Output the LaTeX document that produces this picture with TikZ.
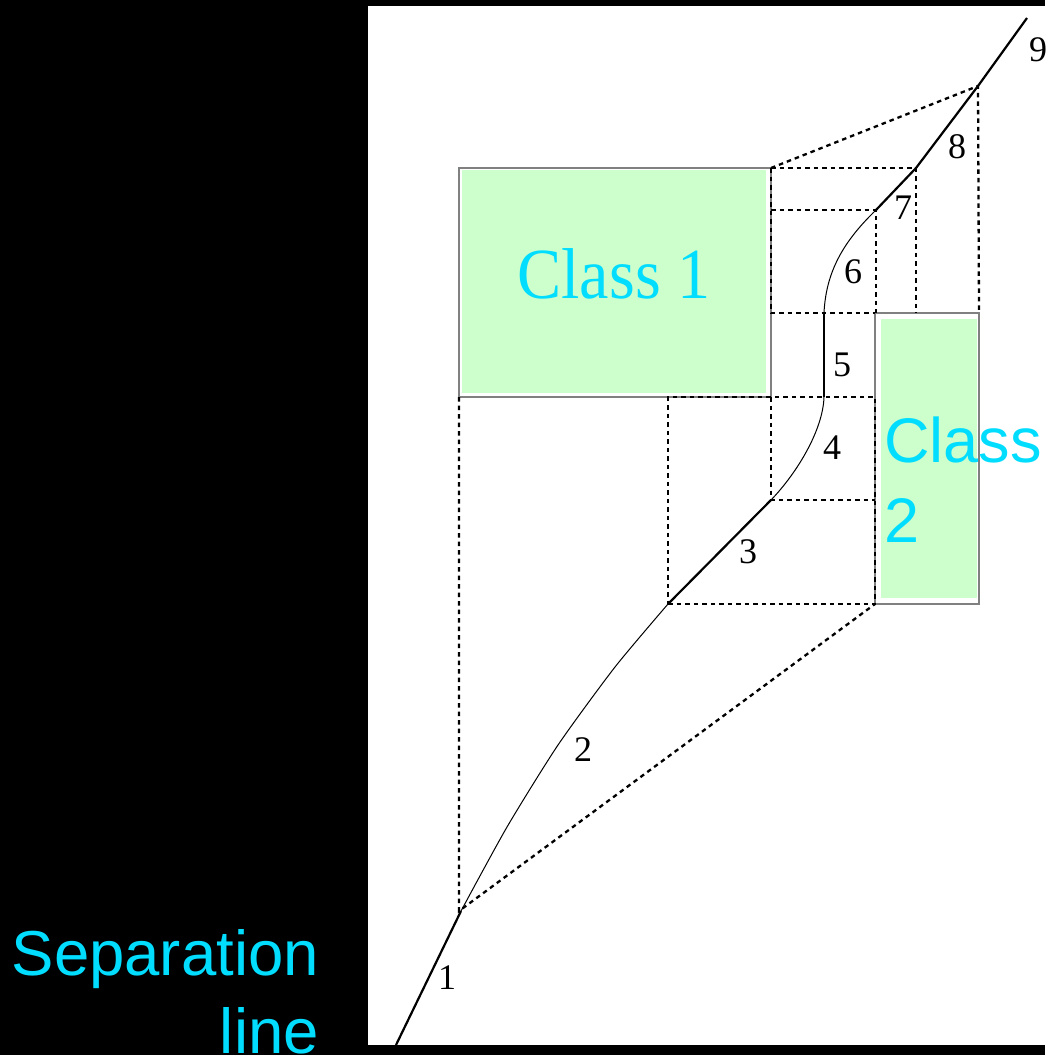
\documentclass[tikz,border=0pt]{standalone}
\usepackage{fontspec}
\setmainfont{Liberation Serif}
\newfontfamily\arialfont{Liberation Sans}
\usepackage{tikz}
\definecolor{labelcyan}{RGB}{0,221,255}
\definecolor{classgreen}{RGB}{204,255,204}

\begin{document}
\begin{tikzpicture}[x=1pt,y=-1pt,
  classbox/.style={draw=gray,line width=1.3pt,fill=white,inner sep=0pt,outer sep=0pt},
  boxfill/.style={fill=classgreen},
  thickseg/.style={line width=2.2pt},
  thinseg/.style={line width=1pt},
  guide/.style={line width=2.3pt,dash pattern=on 4.5pt off 4pt},
  num/.style={font=\fontsize{36}{36}\selectfont,inner sep=0pt},
  classtext/.style={text=labelcyan,inner sep=0pt}]
\fill[black] (0,0) rectangle (1045,1055);
\fill[white] (368,6) rectangle (1045,1045);
\useasboundingbox (0,0) rectangle (1045,1055);

\node[classbox,minimum width=312pt,minimum height=229pt] (c1) at (615,282.5) {};
\node[classbox,minimum width=104pt,minimum height=291pt] (c2) at (927,458.5) {};
\fill[boxfill] ([shift={(3pt,-2pt)}]c1.north west) rectangle ([shift={(-5pt,4pt)}]c1.south east);
\fill[boxfill] ([shift={(6pt,-6pt)}]c2.north west) rectangle ([shift={(-2pt,6pt)}]c2.south east);

\coordinate (s0) at (396,1045);
\coordinate (s1) at (461,911);
\coordinate (s2) at (668,604);
\coordinate (s3) at (771,500);
\coordinate (s4) at (824,397);
\coordinate (s5) at (824,313);
\coordinate (s6) at (876,210);
\coordinate (s7) at (916,168);
\coordinate (s8) at (978,86);
\coordinate (s9) at (1027,18);

\draw[guide] (c1.south west) -- (c1.south west |- s1) -- (c2.south west);
\draw[guide] (s2) -- (c2.south west) -- (c2.west |- c1.south) -- (s2 |- c1.south) -- cycle;
\draw[guide] (c1.south east) -- (s3) -- (c2.west |- s3);
\draw[guide] (c1.north east) -- (s8) -- (c2.north east);
\draw[guide] (c1.north east) -- (s7) -- (s7 |- c2.north);
\draw[guide] (c1.north east) -- (c1.east |- c2.north) -- (c2.north west);
\draw[guide] (c1.east |- s6) -- (s6) -- (s6 |- c2.north);

\draw[thickseg] (s0) -- (s1);
\draw[thinseg] plot[smooth,tension=0.4] coordinates {(s1) (507,827) (558,745) (615,667) (s2)};
\draw[thickseg] (s2) -- (s3);
\draw[thinseg] (s3) .. controls (797,473) and (823,430) .. (s4);
\draw[thickseg] (s4) -- (s5);
\draw[thinseg] (s5) .. controls (826,270) and (845,240) .. (s6);
\draw[thickseg] (s6) -- (s7) -- (s8) -- (s9);

\node[num] (n1) at (447,978) {1};
\node[num] (n2) at (583,750) {2};
\node[num] (n3) at (748,552) {3};
\node[num] (n4) at (832,448) {4};
\node[num] (n5) at (842,365) {5};
\node[num] (n6) at (853,272) {6};
\node[num] (n7) at (903,208) {7};
\node[num] (n8) at (957,147) {8};
\node[num] (n9) at (1038,50) {9};

\node[classtext,font=\fontsize{72}{72}\selectfont,anchor=base] (t1) at (614,298) {\scalebox{0.92}[1]{Class 1}};
\node[classtext,font=\arialfont\fontsize{63}{80}\selectfont,anchor=north west,align=left] (t2) at (884,417) {Class\\2};
\node[classtext,font=\arialfont\fontsize{63.5}{78}\selectfont,anchor=north east,align=right] (t3) at (319,929) {Separation\\line};
\end{tikzpicture}
\end{document}
